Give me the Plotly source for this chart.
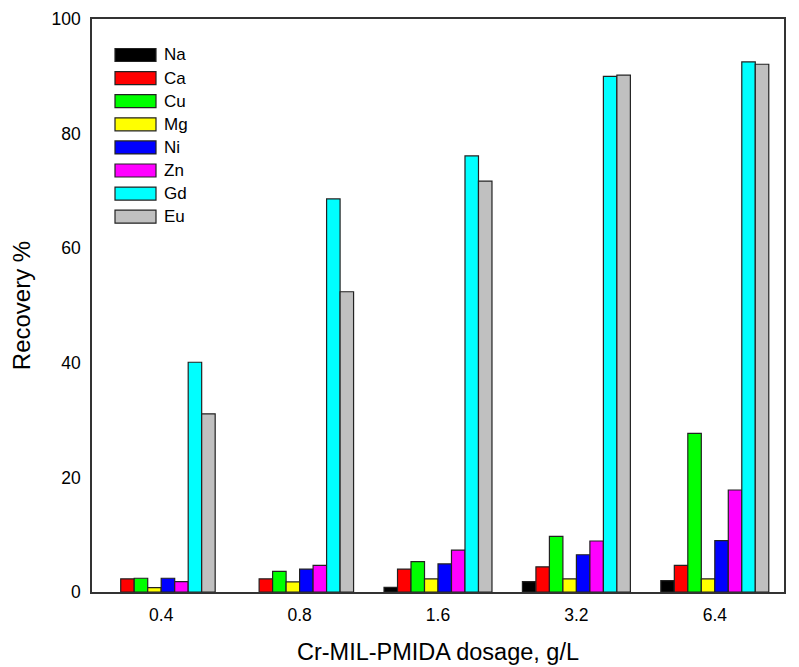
import plotly.graph_objects as go

dosages = ["0.4", "0.8", "1.6", "3.2", "6.4"]
metals = ["Na", "Ca", "Cu", "Mg", "Ni", "Zn", "Gd", "Eu"]
colors = ["#000000", "#ff0000", "#00ff00", "#ffff00", "#0000ff", "#ff00ff", "#00ffff", "#c0c0c0"]

Na = [0.0, 0.0, 0.8, 1.8, 2.0]
Ca = [2.3, 2.3, 4.0, 4.4, 4.65]
Cu = [2.4, 3.6, 5.3, 9.7, 27.7]
Mg = [0.75, 1.75, 2.3, 2.3, 2.3]
Ni = [2.4, 4.0, 4.9, 6.5, 8.95]
Zn = [1.8, 4.65, 7.3, 8.9, 17.8]
Gd = [40.1, 68.6, 76.1, 90.0, 92.5]
Eu = [31.1, 52.4, 71.7, 90.2, 92.1]
series = [Na, Ca, Cu, Mg, Ni, Zn, Gd, Eu]

FONT = "Liberation Sans, Arial"

fig = go.Figure()
for name, vals, c in zip(metals, series, colors):
    fig.add_trace(go.Bar(
        x=dosages, y=vals, name=name,
        marker=dict(color=c, line=dict(color="#222222",
                                       width=[1.2 if v > 0 else 0 for v in vals])),
        showlegend=False,
    ))

# page body has an 8px offset; plot area placed at screen coords
OFF = 8
W, H = 799, 667
sl, st, sr, sb = 92, 19, 784, 592  # plot area in screen px
ml, mt = sl - OFF, st - OFF
mr = W - (sr - OFF)
mb = H - (sb - OFF)
pw, ph = sr - sl, sb - st

shapes = []
annotations = []
x0, x1 = 115, 156
top = 55
step = 23.1
for i, (name, c) in enumerate(zip(metals, colors)):
    yc = top + i * step
    shapes.append(dict(
        type="rect", xref="paper", yref="paper",
        x0=(x0 - sl) / pw, x1=(x1 - sl) / pw,
        y0=1 - (yc - 6.5 - st) / ph, y1=1 - (yc + 6.5 - st) / ph,
        fillcolor=c, line=dict(color="#222222", width=1.2),
    ))
    annotations.append(dict(
        xref="paper", yref="paper", x=(162 - sl) / pw, y=1 - (yc - st) / ph,
        text=name, showarrow=False, xanchor="left", yanchor="middle",
        font=dict(family=FONT, size=17, color="#000000"),
    ))

fig.update_layout(
    width=W, height=H,
    margin=dict(l=ml, r=mr, t=mt, b=mb, autoexpand=False),
    plot_bgcolor="white", paper_bgcolor="white",
    barmode="group", bargap=0.22, bargroupgap=0,
    font=dict(family=FONT, size=17.5, color="#000000"),
    shapes=shapes, annotations=annotations,
    xaxis=dict(
        title=dict(text="Cr-MIL-PMIDA dosage, g/L", font=dict(size=23.5), standoff=20),
        showline=True, linecolor="#333333", linewidth=1.5, mirror=True,
        ticks="", showgrid=False, ticklabelstandoff=6, automargin=False,
    ),
    yaxis=dict(
        title=dict(text="Recovery %", font=dict(size=24), standoff=22),
        range=[0, 100], tickvals=[0, 20, 40, 60, 80, 100],
        showline=True, linecolor="#333333", linewidth=1.5, mirror=True,
        ticks="", showgrid=False, zeroline=False, ticklabelstandoff=6,
        automargin=False,
    ),
)

fig.write_html("out.html")
